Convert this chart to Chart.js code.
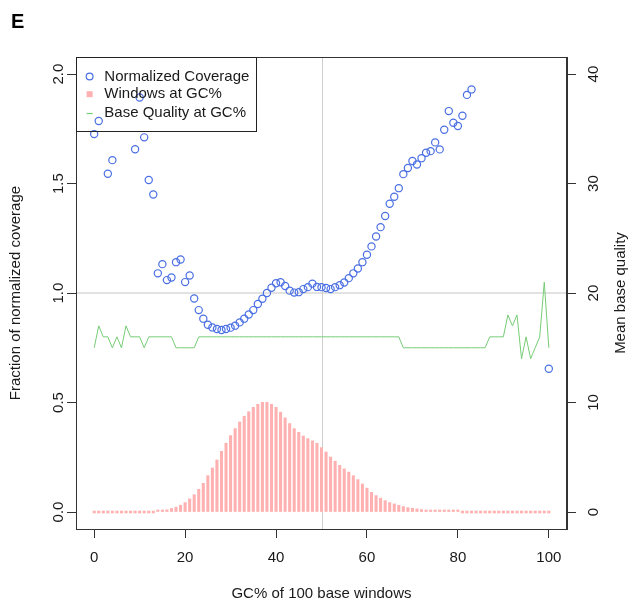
<!DOCTYPE html>
<html>
<head>
<meta charset="utf-8">
<script src="https://cdn.jsdelivr.net/npm/chart.js@4/dist/chart.umd.min.js"></script>
<style>
html,body{margin:0;padding:0;background:#fff;}
#wrap{width:632px;height:605px;}
</style>
</head>
<body>
<div id="wrap"><canvas id="c" width="632" height="605"></canvas></div>
<script>
// ---- data ----
const gcPercent = [0,1,2,3,4,5,6,7,8,9,10,11,12,13,14,15,16,17,18,19,20,21,22,23,24,25,26,27,28,29,30,31,32,33,34,35,36,37,38,39,40,41,42,43,44,45,46,47,48,49,50,51,52,53,54,55,56,57,58,59,60,61,62,63,64,65,66,67,68,69,70,71,72,73,74,75,76,77,78,79,80,81,82,83,84,85,86,87,88,89,90,91,92,93,94,95,96,97,98,99,100];

const normalizedCoverage = [1.726,1.786,null,1.545,1.607,null,null,null,null,1.657,
  1.893,1.711,1.516,1.450,1.090,1.132,1.059,1.071,1.141,1.153,
  1.050,1.080,0.975,0.922,0.883,0.855,0.843,0.836,0.831,0.836,
  0.842,0.851,0.866,0.883,0.902,0.922,0.950,0.974,1.000,1.024,
  1.045,1.049,1.032,1.011,1.002,1.004,1.018,1.027,1.043,1.028,
  1.027,1.023,1.018,1.027,1.036,1.048,1.068,1.090,1.112,1.141,
  1.175,1.213,1.258,1.301,1.352,1.408,1.440,1.479,1.543,1.571,
  1.603,1.587,1.616,1.641,1.648,1.688,1.656,1.746,1.831,1.778,
  1.763,1.810,1.905,1.930,null,null,null,null,null,null,
  null,null,null,null,null,null,null,null,null,null,
  0.654];

const windowsAtGC = [0,0,0,0,0,0,0,0,0,0,
  0,0,0,0,0.003,0.006,0.010,0.016,0.022,0.031,
  0.043,0.060,0.079,0.104,0.131,0.166,0.201,0.238,0.277,0.314,
  0.349,0.381,0.411,0.437,0.458,0.478,0.492,0.501,0.501,0.492,
  0.478,0.456,0.430,0.404,0.381,0.364,0.347,0.335,0.325,0.314,
  0.294,0.274,0.251,0.232,0.213,0.197,0.182,0.166,0.148,0.128,
  0.109,0.090,0.075,0.063,0.052,0.043,0.037,0.031,0.025,0.020,
  0.017,0.014,0.011,0.009,0.007,0.006,0.004,0.003,0.002,0.002,
  0.001,0,0,0,0,0,0,0,0,0,
  0,0,0,0,0,0,0,0,0,0,
  0];

const baseQuality = [15,17,16,16,15,16,15,17,16,16,
  16,15,16,16,16,16,16,16,15,15,
  15,15,15,16,16,16,16,16,16,16,
  16,16,16,16,16,16,16,16,16,16,
  16,16,16,16,16,16,16,16,16,16,
  16,16,16,16,16,16,16,16,16,16,
  16,16,16,16,16,16,16,16,15,15,
  15,15,15,15,15,15,15,15,15,15,
  15,15,15,15,15,15,15,16,16,16,
  16,18,17,18,14,16,14,15,16,21,
  15];

const xTickValues = [0,20,40,60,80,100];
const leftTickValues = [0,0.5,1.0,1.5,2.0];
const rightTickValues = [0,10,20,30,40];
const legendLabels = ['Normalized Coverage','Windows at GC%','Base Quality at GC%'];
const refLineY = 1.0;
const refLineX = 50;

// ---- style ----
const FONT = '"Liberation Sans", Arial, Helvetica, sans-serif';
const BLUE = '#4a6fe3';
const PINK = '#ffb0b0';
const GREEN = '#76cc76';
const AXIS = '#333333';
const TEXT = '#1a1a1a';

Chart.defaults.font.family = FONT;
Chart.defaults.font.size = 15;
Chart.defaults.color = TEXT;

const decor = {
  id: 'decor',
  beforeDatasetsDraw(chart) {
    const {ctx, chartArea: a, scales} = chart;
    ctx.save();
    ctx.strokeStyle = '#d9d9d9';
    ctx.lineWidth = 1.4;
    const yy = scales.y.getPixelForValue(refLineY);
    ctx.beginPath(); ctx.moveTo(a.left, yy); ctx.lineTo(a.right, yy); ctx.stroke();
    ctx.strokeStyle = '#cfcfcf';
    ctx.lineWidth = 1;
    const xx = Math.round(scales.x.getPixelForValue(refLineX)) + 0.5;
    ctx.beginPath(); ctx.moveTo(xx, a.top); ctx.lineTo(xx, a.bottom); ctx.stroke();
    ctx.restore();
  },
  afterDraw(chart) {
    const {ctx, chartArea: a} = chart;
    ctx.save();
    // box
    ctx.strokeStyle = AXIS;
    ctx.lineWidth = 1;
    ctx.strokeRect(Math.round(a.left) + 0.5, Math.round(a.top) + 0.5,
                   Math.round(a.right - a.left) - 1, Math.round(a.bottom - a.top));
    // legend
    const lx = Math.round(a.left) + 0.5, ly = Math.round(a.top) + 0.5;
    const lw = 180, lh = 74;
    ctx.strokeStyle = '#222';
    ctx.strokeRect(lx, ly, lw, lh);
    const rows = [19.5, 37.2, 56];
    const sx = a.left + 13.6, tx = a.left + 28.3;
    ctx.font = '15px ' + FONT;
    ctx.fillStyle = TEXT;
    ctx.textBaseline = 'middle';
    ctx.textAlign = 'left';
    rows.forEach((r, i) => ctx.fillText(legendLabels[i], tx, a.top + r));
    // symbols
    ctx.strokeStyle = BLUE; ctx.lineWidth = 1.2;
    ctx.beginPath(); ctx.arc(sx, a.top + rows[0], 3.4, 0, Math.PI * 2); ctx.stroke();
    ctx.fillStyle = PINK;
    ctx.fillRect(sx - 3, a.top + rows[1] - 3, 6, 6);
    ctx.strokeStyle = GREEN; ctx.lineWidth = 1.2;
    ctx.beginPath(); ctx.moveTo(sx - 3, a.top + rows[2] + 0.5); ctx.lineTo(sx + 3, a.top + rows[2] + 0.5); ctx.stroke();
    // panel letter
    ctx.fillStyle = '#000';
    ctx.font = 'bold 20px ' + FONT;
    ctx.textBaseline = 'alphabetic';
    ctx.fillText('E', 11, 28);
    // right axis title
    ctx.font = '15px ' + FONT;
    ctx.fillStyle = TEXT;
    ctx.translate(621, (a.top + a.bottom) / 2);
    ctx.rotate(-Math.PI / 2);
    ctx.textAlign = 'center';
    ctx.textBaseline = 'middle';
    ctx.fillText('Mean base quality', 0, 0);
    ctx.restore();
  }
};

const tickFont = {family: FONT, size: 15};

new Chart(document.getElementById('c'), {
  type: 'bar',
  data: {
    datasets: [
      {
        type: 'line',
        label: legendLabels[0],
        data: gcPercent.map((g, i) => ({x: g, y: normalizedCoverage[i]})),
        yAxisID: 'y',
        showLine: false,
        pointStyle: 'circle',
        pointRadius: 3.6,
        pointBorderWidth: 1.2,
        pointBorderColor: BLUE,
        pointBackgroundColor: 'rgba(0,0,0,0)',
        borderColor: BLUE,
        order: 1
      },
      {
        type: 'line',
        label: legendLabels[2],
        data: gcPercent.map((g, i) => ({x: g, y: baseQuality[i]})),
        yAxisID: 'y2',
        borderColor: GREEN,
        borderWidth: 1,
        pointRadius: 0,
        tension: 0,
        order: 2
      },
      {
        type: 'bar',
        label: legendLabels[1],
        data: gcPercent.map((g, i) => ({x: g, y: windowsAtGC[i]})),
        yAxisID: 'y',
        backgroundColor: PINK,
        borderWidth: 0,
        barThickness: 2.4,
        minBarLength: 2,
        order: 3
      }
    ]
  },
  options: {
    responsive: false,
    animation: false,
    events: [],
    layout: {padding: {top: 57, left: 0, right: 0, bottom: 0}},
    plugins: {legend: {display: false}, tooltip: {enabled: false}, title: {display: false}},
    scales: {
      x: {
        type: 'linear',
        position: 'bottom',
        min: -4, max: 104,
        offset: false,
        afterBuildTicks: s => { s.ticks = xTickValues.map(v => ({value: v})); },
        afterFit: s => { s.height = 76; },
        grid: {drawOnChartArea: false, offset: false, tickLength: 9, tickColor: AXIS, tickWidth: 1},
        border: {display: true, color: AXIS, width: 1},
        ticks: {font: tickFont, color: TEXT, padding: 11, maxRotation: 0, minRotation: 0},
        title: {display: true, text: 'GC% of 100 base windows', font: tickFont, color: TEXT, padding: {top: 0, bottom: 2}}
      },
      y: {
        type: 'linear',
        position: 'left',
        min: -0.0776, max: 2.078,
        afterBuildTicks: s => { s.ticks = leftTickValues.map(v => ({value: v})); },
        afterFit: s => { s.width = 76; },
        grid: {drawOnChartArea: false, tickLength: 9, tickColor: AXIS, tickWidth: 1},
        border: {display: true, color: AXIS, width: 1},
        ticks: {font: tickFont, color: TEXT, minRotation: 90, maxRotation: 90, crossAlign: 'center', padding: -2,
                callback: v => Number(v).toFixed(1)},
        title: {display: true, text: 'Fraction of normalized coverage', font: tickFont, color: TEXT, padding: {top: 7, bottom: 0}}
      },
      y2: {
        type: 'linear',
        position: 'right',
        min: -1.552, max: 41.56,
        afterBuildTicks: s => { s.ticks = rightTickValues.map(v => ({value: v})); },
        afterFit: s => { s.width = 65; },
        grid: {drawOnChartArea: false, tickLength: 9, tickColor: AXIS, tickWidth: 1},
        border: {display: true, color: AXIS, width: 1},
        ticks: {font: tickFont, color: TEXT, minRotation: 90, maxRotation: 90, crossAlign: 'center', padding: 10,
                callback: v => String(v)}
      }
    }
  },
  plugins: [decor]
});
</script>
</body>
</html>
